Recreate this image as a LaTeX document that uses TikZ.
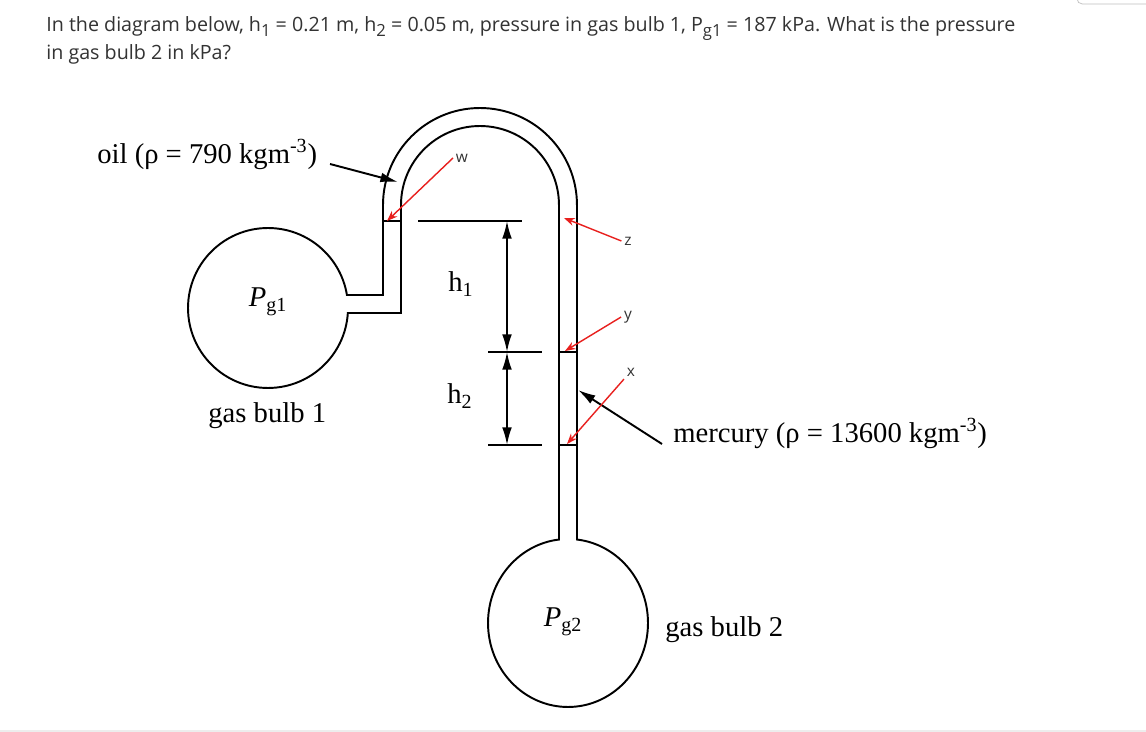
\documentclass[tikz,border=0pt]{standalone}
\usepackage{fontspec}
\setmainfont{Liberation Serif}
\newfontfamily\headfont{Open Sans}
\usetikzlibrary{arrows.meta}
\definecolor{pointred}{HTML}{E8201E}
\definecolor{textgrey}{HTML}{333333}
\newcommand{\lowidx}[1]{\raisebox{-0.45ex}{\fontsize{9.5}{10}\selectfont #1}}
\tikzset{
  wall/.style={line width=1.1pt},
  dimarrow/.style={line width=1pt,{Latex[length=10pt,width=5.5pt]}-{Latex[length=10pt,width=5.5pt]}},
  redarrow/.style={pointred,line width=0.8pt,-{Stealth[length=6pt,width=4.5pt]}},
  blackarrow/.style={line width=1.1pt,-{Latex[length=10pt,width=5.5pt]}},
  lbl/.style={font=\fontsize{16.3}{19}\selectfont,inner sep=0pt},
  pointlbl/.style={textgrey,font=\headfont\fontsize{8.8}{10}\selectfont,inner sep=1.5pt},
  head/.style={textgrey,font=\headfont\fontsize{11.2}{13}\selectfont,inner sep=0pt}
}
\begin{document}
\begin{tikzpicture}[x=0.02cm,y=-0.02cm]
\useasboundingbox (0,0) rectangle (1146,732);
\fill[white] (0,0) rectangle (1146,732);
\draw[black!25,rounded corners=3pt] (1077,-10) rectangle (1160,4);
\draw[black!7,line width=1pt] (0,731) -- (1146,731);
\node[head,anchor=base west] (qone) at (46,32) {In the diagram below, h\lowidx{1} = 0.21 m, h\lowidx{2} = 0.05 m, pressure in gas bulb 1, P\lowidx{g1} = 187 kPa. What is the pressure};
\node[head,anchor=base west] (qtwo) at (46,60) {in gas bulb 2 in kPa?};
\draw[wall] (268,308) circle[radius=1.6cm];
\draw[wall] (568,623) ellipse[x radius=1.6cm,y radius=1.68cm];
\fill[white] (340,296) rectangle (353,312);
\fill[white] (560,528) rectangle (576,550);
\draw[wall] (347,295) -- (383,295) -- (383,205) arc[start angle=180,end angle=0,radius=1.94cm] -- (577,540);
\draw[wall] (348,313) -- (401,313) -- (401,205) arc[start angle=180,end angle=0,radius=1.58cm] -- (559,540);
\draw[wall] (383,221) -- (401,221);
\draw[wall] (559,352) -- (577,352);
\draw[wall] (559,445) -- (577,445);
\draw[wall] (418,221) -- (522,221);
\draw[wall] (488,352) -- (542,352);
\draw[wall] (488,445) -- (542,445);
\coordinate (htop) at (507,221);
\coordinate (hmid) at (507,352);
\coordinate (hbot) at (507,445);
\draw[dimarrow] (htop) -- (hmid);
\draw[dimarrow] (hmid) -- (hbot);
\node[lbl,anchor=base west] (hone) at (448,292) {h\textsubscript{1}};
\node[lbl,anchor=base west] (htwo) at (447,404) {h\textsubscript{2}};
\node[lbl,anchor=base west] (oil) at (97,164) {oil (ρ = 790 kgm\textsuperscript{-3})};
\node[lbl,anchor=base west] (mercury) at (673,443) {mercury (ρ = 13600 kgm\textsuperscript{-3})};
\node[lbl,anchor=base west] (bulbone) at (208,423) {gas bulb 1};
\node[lbl,anchor=base west] (bulbtwo) at (665,637) {gas bulb 2};
\node[lbl] (pone) at (268,302) {\textit{P}\textsubscript{g1}};
\node[lbl] (ptwo) at (563,622) {\textit{P}\textsubscript{g2}};
\coordinate (oiltail) at (330,164);
\coordinate (oiltip) at (398,182);
\draw[blackarrow] (oiltail) -- (oiltip);
\coordinate (hgtail) at (662,444);
\coordinate (hgtip) at (578,390);
\draw[blackarrow] (hgtail) -- (hgtip);
\node[pointlbl] (w) at (462,158) {w};
\node[pointlbl] (z) at (628,241) {z};
\node[pointlbl] (y) at (628,317) {y};
\node[pointlbl] (x) at (631,372) {x};
\coordinate (wtip) at (387,221);
\coordinate (ztip) at (564,218);
\coordinate (ytip) at (565,351);
\coordinate (xtip) at (567,444);
\draw[redarrow] (w.west) -- (wtip);
\draw[redarrow] (z.west) -- (ztip);
\draw[redarrow] (y.west) -- (ytip);
\draw[redarrow] (x.south west) -- (xtip);
\end{tikzpicture}
\end{document}
